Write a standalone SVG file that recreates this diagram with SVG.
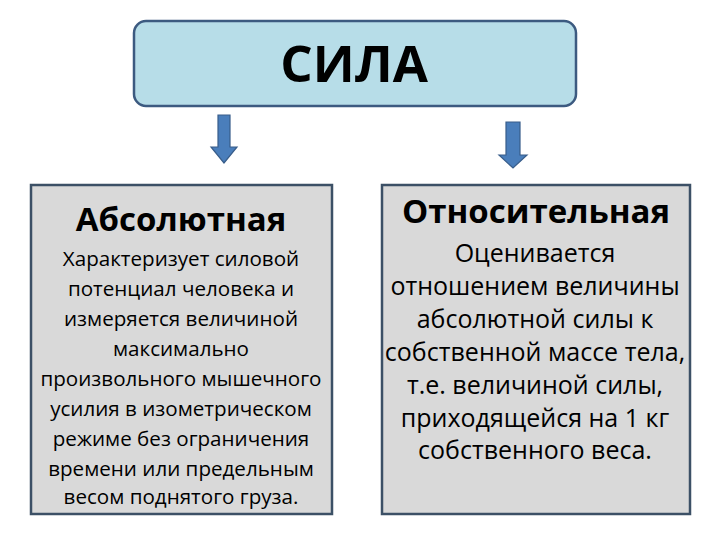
<svg xmlns="http://www.w3.org/2000/svg" width="720" height="540" viewBox="0 0 720 540">
<style>
.t{font-family:"Open Sans","Noto Sans","Liberation Sans",sans-serif;fill:#000;text-anchor:middle}
.h{font-weight:bold;font-size:33px}
.l{font-size:20.6px}
.r{font-size:25px}
.box{fill:#d9d9d9;stroke:#3c5066;stroke-width:2.5}
.arrow{fill:#4a7ebb;stroke:#385d8a;stroke-width:1.2}
</style>
<rect width="720" height="540" fill="#fff"/>
<g id="sila">
<rect x="134" y="21" width="442" height="85" rx="12" fill="#b7dde8" stroke="#3c5a80" stroke-width="2.5"/>
<text class="t" x="354" y="82" style="font-weight:bold;font-size:51px">СИЛА</text>
</g>
<g id="connectors">
<path class="arrow" d="M218,115 H230 V147 H237 L224,163 L211,147 H218 Z"/>
<path class="arrow" d="M506,122 H520 V155 H527 L513,168 L499,155 H506 Z"/>
</g>
<g id="absolute">
<rect class="box" x="31" y="185" width="301" height="329"/>
<text class="t h" x="181" y="231">Абсолютная</text>
<text class="t l" x="181" y="266">Характеризует силовой</text>
<text class="t l" x="181" y="296">потенциал человека и</text>
<text class="t l" x="181" y="326">измеряется величиной</text>
<text class="t l" x="181" y="356">максимально</text>
<text class="t l" x="181" y="386">произвольного мышечного</text>
<text class="t l" x="181" y="416">усилия в изометрическом</text>
<text class="t l" x="181" y="446">режиме без ограничения</text>
<text class="t l" x="181" y="476">времени или предельным</text>
<text class="t l" x="181" y="504">весом поднятого груза.</text>
</g>
<g id="relative">
<rect class="box" x="382" y="185" width="308" height="329"/>
<text class="t h" x="536" y="223">Относительная</text>
<text class="t r" x="535" y="262">Оценивается</text>
<text class="t r" x="535" y="295">отношением величины</text>
<text class="t r" x="535" y="328">абсолютной силы к</text>
<text class="t r" x="535" y="361">собственной массе тела,</text>
<text class="t r" x="535" y="394">т.е. величиной силы,</text>
<text class="t r" x="535" y="427">приходящейся на 1 кг</text>
<text class="t r" x="535" y="459">собственного веса.</text>
</g>
</svg>
